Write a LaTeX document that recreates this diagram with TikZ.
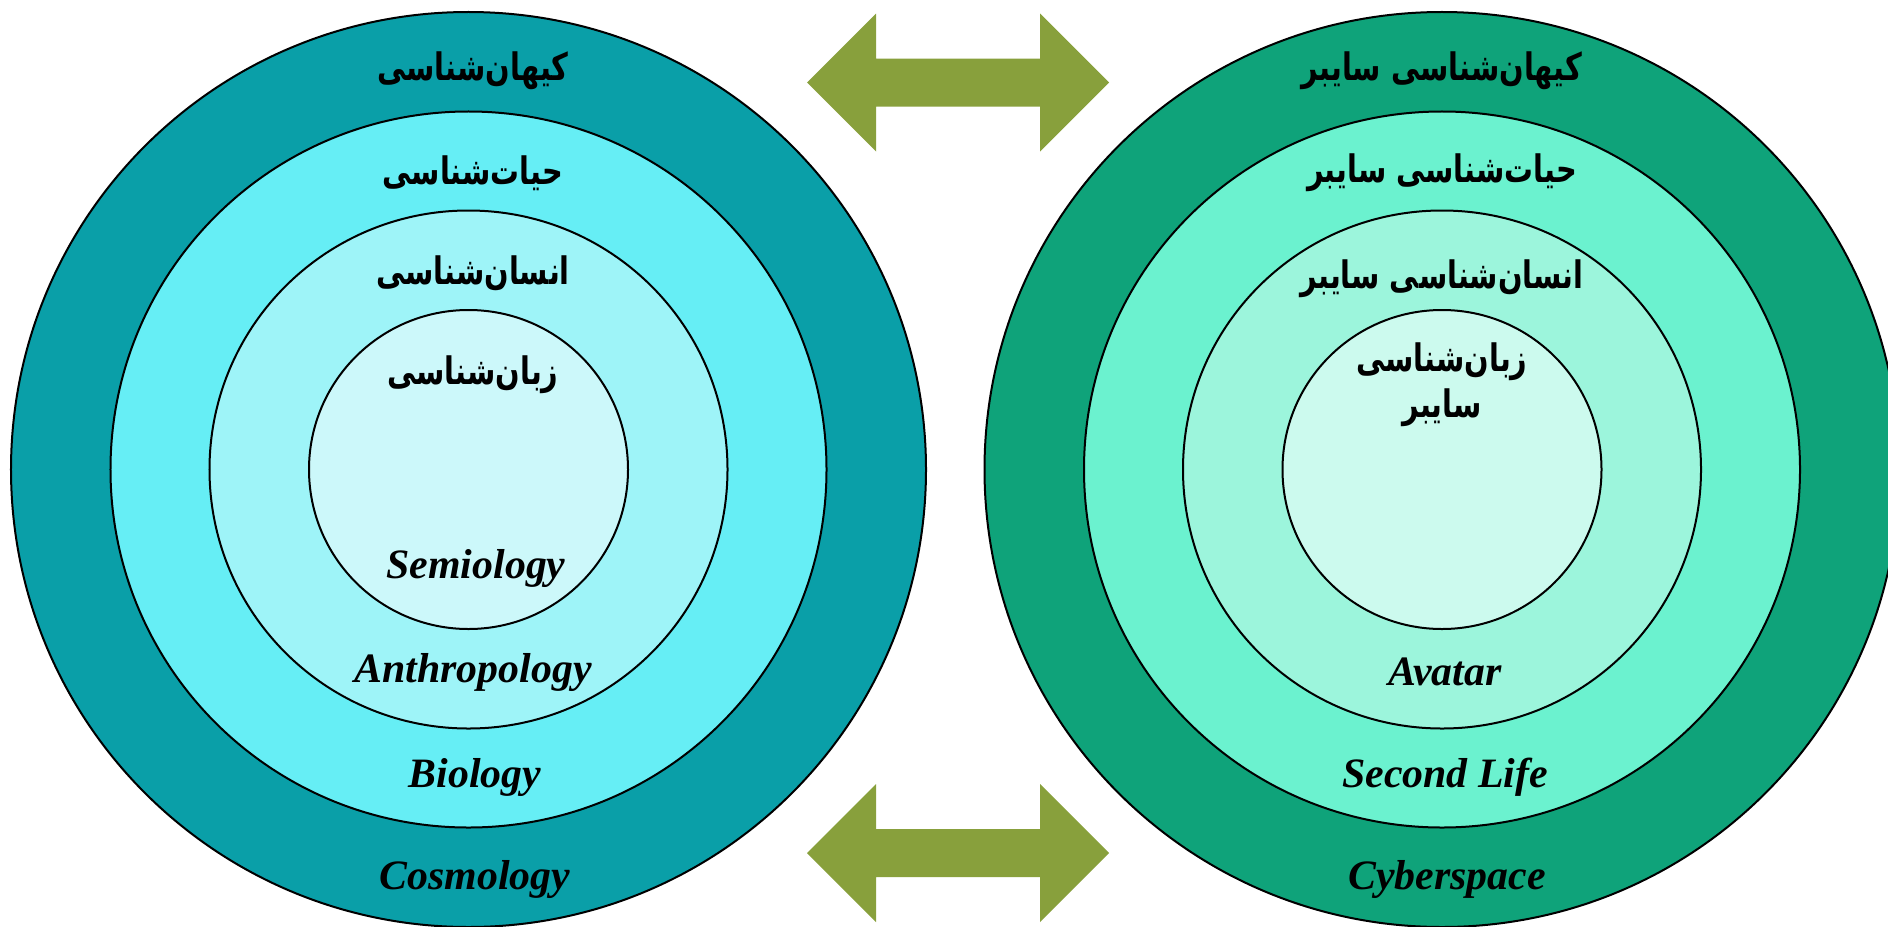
\documentclass[tikz,border=0pt]{standalone}
\usepackage{fontspec}
\setmainfont{Liberation Serif}
\newfontfamily\arabicfont[Script=Arabic, FakeStretch=0.76]{DejaVu Sans}
\TeXXeTstate=1
\newcommand\zw{^^^^200c}
\definecolor{tealA}{HTML}{0A9FA8}
\definecolor{tealB}{HTML}{66EEF5}
\definecolor{tealC}{HTML}{9EF4F8}
\definecolor{tealD}{HTML}{CCF8FA}
\definecolor{greenA}{HTML}{0FA37A}
\definecolor{greenB}{HTML}{6BF2CF}
\definecolor{greenC}{HTML}{9CF5DC}
\definecolor{greenD}{HTML}{CCFAEE}
\definecolor{olive}{HTML}{88A03C}
\tikzset{
  ring/.style={circle, draw=black, line width=2bp, inner sep=0pt, outer sep=0pt},
  fa/.style={font=\arabicfont\bfseries\fontsize{38}{46}\selectfont, text=black, align=center, inner sep=0pt},
  en/.style={font=\bfseries\itshape\fontsize{42}{50}\selectfont, text=black, inner sep=0pt},
  dblarrow/.style={fill=olive, draw=none}
}
\begin{document}
\begin{tikzpicture}[x=1bp,y=-1bp]
\useasboundingbox (0,0) rectangle (1888,927);
\clip (0,0) rectangle (1888,927);
\fill[white] (0,0) rectangle (1888,927);
% left circles
\node[ring, fill=tealA, minimum size=915bp] (L1) at (468.5,469.5) {};
\node[ring, fill=tealB, minimum size=716bp] (L2) at (468.5,469.5) {};
\node[ring, fill=tealC, minimum size=518bp] (L3) at (468.5,469.5) {};
\node[ring, fill=tealD, minimum size=319bp] (L4) at (468.5,469.5) {};
% right circles
\node[ring, fill=greenA, minimum size=915bp] (R1) at (1442,469.5) {};
\node[ring, fill=greenB, minimum size=716bp] (R2) at (1442,469.5) {};
\node[ring, fill=greenC, minimum size=518bp] (R3) at (1442,469.5) {};
\node[ring, fill=greenD, minimum size=319bp] (R4) at (1442,469.5) {};
% arrows
\fill[dblarrow] (807,82.5) -- (876,13.5) -- (876,58.5) -- (1040,58.5) -- (1040,13.5) -- (1109,82.5) -- (1040,151.5) -- (1040,106.5) -- (876,106.5) -- (876,151.5) -- cycle;
\fill[dblarrow] (807,853) -- (876,784) -- (876,829) -- (1040,829) -- (1040,784) -- (1109,853) -- (1040,922) -- (1040,877) -- (876,877) -- (876,922) -- cycle;
% left labels
\node[fa] (l1) at (473,71) {\beginR کیهان\zw شناسی\endR};
\node[fa] (l2) at (473,173) {\beginR حیات\zw شناسی\endR};
\node[fa] (l3) at (473,273) {\beginR انسان\zw شناسی\endR};
\node[fa] (l4) at (473,375) {\beginR زبان\zw شناسی\endR};
\node[en] (e4) at (476,568) {Semiology};
\node[en] (e3) at (473,672) {Anthropology};
\node[en] (e2) at (475,777) {Biology};
\node[en] (e1) at (475,879) {Cosmology};
% right labels
\node[fa] (r1) at (1442,71) {\beginR کیهان\zw شناسی سایبر\endR};
\node[fa] (r2) at (1442,173) {\beginR حیات\zw شناسی سایبر\endR};
\node[fa] (r3) at (1442,279) {\beginR انسان\zw شناسی سایبر\endR};
\node[fa] (r4) at (1442,385) {\beginR زبان\zw شناسی\endR\\\beginR سایبر\endR};
\node[en] (f3) at (1445,672) {Avatar};
\node[en] (f2) at (1445,777) {Second Life};
\node[en] (f1) at (1447,879) {Cyberspace};
\end{tikzpicture}
\end{document}
